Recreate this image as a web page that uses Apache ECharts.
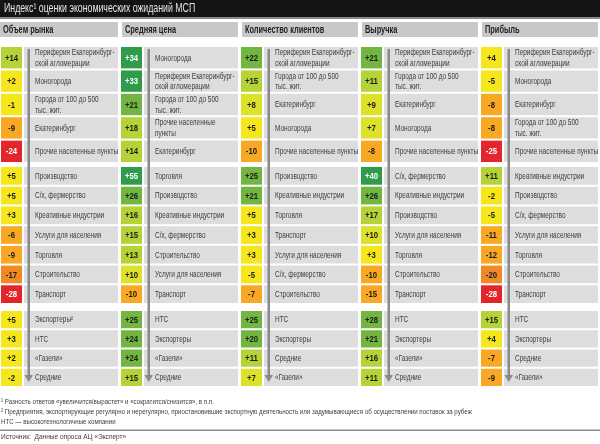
<!DOCTYPE html>
<html lang="ru">
<head>
    <meta charset="UTF-8">
    <title>Индекс оценки экономических ожиданий МСП</title>
    <script src="https://cdn.jsdelivr.net/npm/echarts@6/dist/echarts.min.js"></script>
    <style>
        html, body { margin: 0; padding: 0; background: #fff; }
        #main { width: 600px; height: 444px; }
    </style>
</head>
<body>
<div id="main"></div>
<script>
    // колонки
    var metrics = ['Объем рынка', 'Средняя цена', 'Количество клиентов', 'Выручка', 'Прибыль'];

    // территории
    var regionLabels = [
        ['Периферия Екатеринбург-\nской агломерации', 'Моногорода', 'Города от 100 до 500\nтыс. жит.', 'Екатеринбург', 'Прочие населенные пункты'],
        ['Моногорода', 'Периферия Екатеринбург-\nской агломерации', 'Города от 100 до 500\nтыс. жит.', 'Прочие населенные\nпункты', 'Екатеринбург'],
        ['Периферия Екатеринбург-\nской агломерации', 'Города от 100 до 500\nтыс. жит.', 'Екатеринбург', 'Моногорода', 'Прочие населенные пункты'],
        ['Периферия Екатеринбург-\nской агломерации', 'Города от 100 до 500\nтыс. жит.', 'Екатеринбург', 'Моногорода', 'Прочие населенные пункты'],
        ['Периферия Екатеринбург-\nской агломерации', 'Моногорода', 'Екатеринбург', 'Города от 100 до 500\nтыс. жит.', 'Прочие населенные пункты']
    ];
    var regionValues = [
        [14, 2, -1, -9, -24],
        [34, 33, 21, 18, 14],
        [22, 15, 8, 5, -10],
        [21, 11, 9, 7, -8],
        [4, -5, -8, -8, -25]
    ];

    // отрасли
    var industryLabels = [
        ['Производство', 'С/х, фермерство', 'Креативные индустрии', 'Услуги для населения', 'Торговля', 'Строительство', 'Транспорт'],
        ['Торговля', 'Производство', 'Креативные индустрии', 'С/х, фермерство', 'Строительство', 'Услуги для населения', 'Транспорт'],
        ['Производство', 'Креативные индустрии', 'Торговля', 'Транспорт', 'Услуги для населения', 'С/х, фермерство', 'Строительство'],
        ['С/х, фермерство', 'Креативные индустрии', 'Производство', 'Услуги для населения', 'Торговля', 'Строительство', 'Транспорт'],
        ['Креативные индустрии', 'Производство', 'С/х, фермерство', 'Услуги для населения', 'Торговля', 'Строительство', 'Транспорт']
    ];
    var industryValues = [
        [5, 5, 3, -6, -9, -17, -28],
        [55, 26, 16, 15, 13, 10, -10],
        [25, 21, 5, 3, 3, -5, -7],
        [40, 26, 17, 10, 3, -10, -15],
        [11, -2, -5, -11, -12, -20, -28]
    ];

    // типы компаний
    var companyLabels = [
        ['Экспортеры²', 'НТС', '«Газели»', 'Средние'],
        ['НТС', 'Экспортеры', '«Газели»', 'Средние'],
        ['НТС', 'Экспортеры', 'Средние', '«Газели»'],
        ['НТС', 'Экспортеры', '«Газели»', 'Средние'],
        ['НТС', 'Экспортеры', 'Средние', '«Газели»']
    ];
    var companyValues = [
        [5, 3, 2, -2],
        [25, 24, 24, 15],
        [25, 20, 11, 7],
        [28, 21, 16, 11],
        [15, 4, -7, -9]
    ];

    var footnotes = [
        '¹ Разность ответов «увеличится/вырастет» и «сократится/снизится», в п.п.',
        '² Предприятия, экспортирующие регулярно и нерегулярно, приостановившие экспортную деятельность или задумывающиеся об осуществлении поставок за рубеж',
        'НТС — высокотехнологичные компании'
    ];
    var source = 'Источник:  Данные опроса АЦ «Эксперт»';
    var title = 'Индекс¹ оценки экономических ожиданий МСП';

    var FONT = "'Liberation Sans', Arimo, Arial, sans-serif";
    var colW = 600 / metrics.length;

    // узкий текст: обычный шрифт, сжатый по горизонтали
    function narrowText(str, x, y, opt) {
        return {
            type: 'text', x: x, y: y, z: opt.z || 0, scaleX: opt.sx || 0.8,
            style: {
                text: str, x: 0, y: 0,
                align: opt.align || 'left', verticalAlign: 'middle',
                fill: opt.fill || '#3a3a3a', fontFamily: FONT,
                fontWeight: opt.bold ? 'bold' : 'normal',
                fontSize: opt.size || 8, lineHeight: opt.lh || undefined
            }
        };
    }

    // блоки: сверху вниз
    var blocks = [
        {labels: regionLabels, values: regionValues, top: 46, height: 117},
        {labels: industryLabels, values: industryValues, top: 166, height: 138},
        {labels: companyLabels, values: companyValues, top: 310, height: 77}
    ];

    var grids = [], xAxes = [], yAxes = [], series = [];
    blocks.forEach(function (b, bi) {
        var n = b.values[0].length;
        var rows = [];
        for (var r = 0; r < n; r++) rows.push(r);
        grids.push({left: 0, right: 0, top: b.top, height: b.height});
        xAxes.push({type: 'category', gridIndex: bi, data: metrics, show: false});
        yAxes.push({type: 'category', gridIndex: bi, data: rows, inverse: true, show: false});
        var data = [], names = [];
        b.values.forEach(function (col, ci) {
            col.forEach(function (v, ri) {
                data.push([ci, ri, v]);
                names.push(b.labels[ci][ri]);
            });
        });
        series.push({
            type: 'custom',
            xAxisIndex: bi,
            yAxisIndex: bi,
            data: data,
            encode: {x: 0, y: 1},
            renderItem: function (params, api) {
                var v = api.value(2);
                var c = api.coord([api.value(0), api.value(1)]);
                var s = api.size([1, 1]);
                var x0 = c[0] - s[0] / 2;
                var y0 = c[1] - s[1] / 2 + 1;
                var h = s[1] - 2;
                var light = v >= 30 || v <= -21;
                return {
                    type: 'group',
                    children: [
                        {type: 'rect', shape: {x: x0 + 24, y: y0, width: 94, height: h},
                            style: {fill: '#dddddd'}},
                        {type: 'rect', shape: {x: x0 + 1, y: y0, width: 21, height: h},
                            style: {fill: api.visual('color')}},
                        narrowText((v > 0 ? '+' : '') + v, x0 + 11.5, c[1] + 0.5, {
                            align: 'center', bold: true, size: 9.5, sx: 0.82,
                            fill: light ? '#fff' : '#1c1c1c'
                        }),
                        narrowText(names[params.dataIndex], x0 + 35, c[1] + 0.5, {
                            size: 8.5, sx: 0.76, lh: 10.5, fill: '#3c3c3c'
                        })
                    ]
                };
            }
        });
    });

    var graphics = [
        {type: 'rect', shape: {x: 0, y: 0, width: 600, height: 17}, style: {fill: '#141414'}},
        {type: 'rect', shape: {x: 0, y: 17, width: 600, height: 2}, style: {fill: '#8a8a8a'}},
        narrowText(title, 4, 9, {size: 12, sx: 0.73, fill: '#e6e6e6'})
    ];
    metrics.forEach(function (m, i) {
        graphics.push({type: 'rect', shape: {x: i * colW + (i ? 2 : 0), y: 22, width: i ? 116 : 118, height: 15},
            style: {fill: '#c8c8c8'}});
        graphics.push(narrowText(m, i * colW + (i ? 5 : 3), 30, {bold: true, size: 10, sx: 0.74, fill: '#1e1e1e'}));
        // стрелка
        graphics.push({type: 'rect', z: 10, shape: {x: i * colW + 27.5, y: 49, width: 2.5, height: 327},
            style: {fill: '#8a8a8a'}});
        graphics.push({type: 'polygon', z: 10, shape: {points: [
            [i * colW + 24.5, 375], [i * colW + 33, 375], [i * colW + 28.75, 382]]},
            style: {fill: '#8a8a8a'}});
    });
    footnotes.forEach(function (t, i) {
        graphics.push(narrowText(t, 1, 402 + i * 10, {size: 7.5, sx: 0.82, fill: '#404040'}));
    });
    graphics.push({type: 'rect', shape: {x: 0, y: 429.5, width: 600, height: 1.5}, style: {fill: '#8c8c8c'}});
    graphics.push(narrowText(source, 1, 437, {size: 8, sx: 0.82, fill: '#404040'}));

    var chart = echarts.init(document.getElementById('main'), null, {renderer: 'canvas'});
    chart.setOption({
        animation: false,
        backgroundColor: '#fff',
        grid: grids,
        xAxis: xAxes,
        yAxis: yAxes,
        visualMap: {
            type: 'piecewise',
            show: false,
            dimension: 2,
            seriesIndex: [0, 1, 2],
            pieces: [
                {lt: -20, color: '#e3262b'},
                {gte: -20, lt: -16, color: '#f08a24'},
                {gte: -16, lt: -5, color: '#f8a823'},
                {gte: -5, lt: 6, color: '#f6e71d'},
                {gte: 6, lt: 11, color: '#dde12a'},
                {gte: 11, lt: 20, color: '#b5d336'},
                {gte: 20, lt: 30, color: '#72b541'},
                {gte: 30, color: '#2f9c4b'}
            ]
        },
        graphic: graphics,
        series: series
    });
</script>
</body>
</html>
